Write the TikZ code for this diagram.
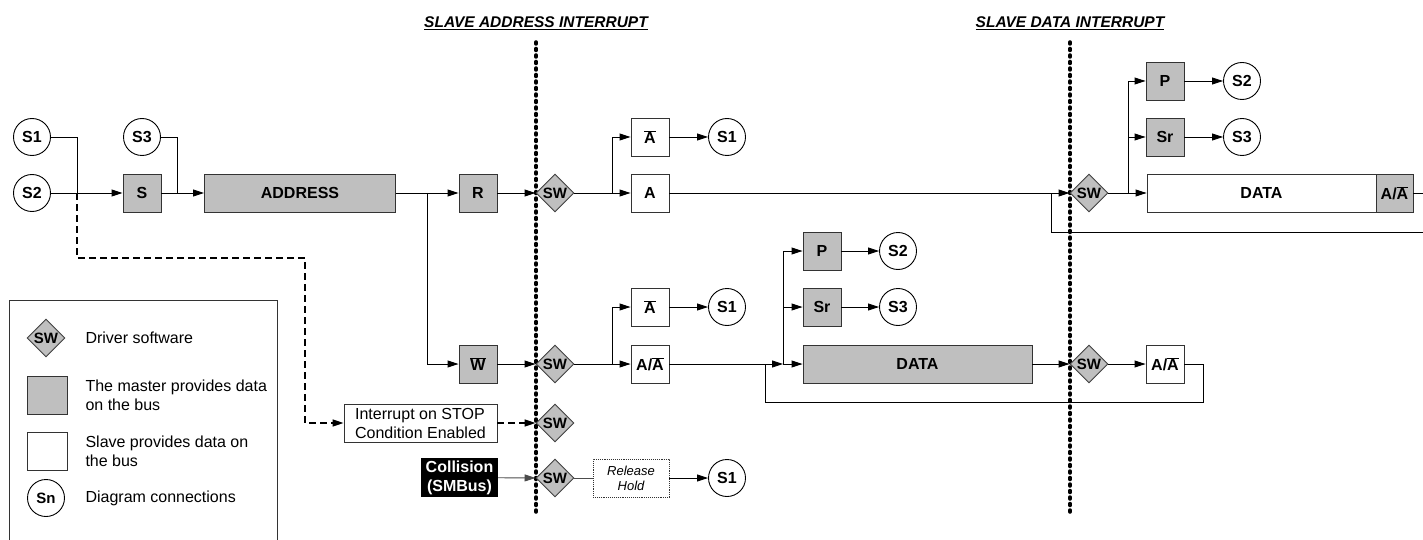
\documentclass[tikz,border=0pt]{standalone}
\usepackage{fontspec}
\setmainfont{Liberation Sans}
\usetikzlibrary{shapes.geometric,arrows.meta}

\newcommand{\ovl}[1]{$\overline{\mbox{#1}}$}
\newcommand{\bigbf}{\bfseries\fontsize{16}{19}\selectfont}

\tikzset{
  bus/.style={line width=0.9pt,draw=black},
  master/.style={draw=black!80,line width=0.9pt,fill=black!25,font=\bigbf,
    minimum width=38pt,minimum height=38pt,inner sep=0pt},
  slave/.style={master,fill=white},
  conn/.style={circle,draw=black,line width=0.9pt,fill=white,font=\bigbf,
    minimum size=37pt,inner sep=0pt},
  swnode/.style={diamond,draw=black!75,line width=0.9pt,fill=black!25,
    font=\bfseries\fontsize{15}{15}\selectfont,
    minimum width=38pt,minimum height=38pt,inner sep=0pt},
  intline/.style={line width=3.5pt,dash pattern=on 2pt off 4.5pt,line cap=round},
  title/.style={font=\bfseries\itshape\fontsize{15.5}{18}\selectfont,anchor=base},
  legtext/.style={anchor=west,align=left,font=\fontsize{16}{19}\selectfont},
}

\begin{document}
\begin{tikzpicture}[x=1pt,y=-1pt,>={Triangle[length=11pt,width=7pt]},
  font=\fontsize{16}{19}\selectfont]
\useasboundingbox (0,0) rectangle (1423,540);

% interrupt markers
\draw[intline] (536,42) -- (536,513);
\draw[intline] (1070,42) -- (1070,513);
\node[title] at (536,28) {\underline{SLAVE ADDRESS INTERRUPT}};
\node[title] at (1070,28) {\underline{SLAVE DATA INTERRUPT}};

% --- address phase ---
\node[conn] (s1a) at (32,137) {S1};
\node[conn] (s2a) at (32,193) {S2};
\node[conn] (s3a) at (142,137) {S3};
\node[master] (st) at (142,193) {S};
\node[master,minimum width=191pt] (addr) at (300,193) {ADDRESS};
\node[master] (rd) at (478,193) {R};
\node[master] (wr) at (478,364) {\ovl{W}};
\coordinate (j1) at (77,193);
\coordinate (j2) at (177,193);
\coordinate (b1) at (427,193);

\draw[bus,->] (s2a) -- (st);
\draw[bus] (s1a.east) -| (j1);
\draw[bus,->] (st) -- (addr);
\draw[bus] (s3a.east) -| (j2);
\draw[bus,->] (addr) -- (rd);
\draw[bus,->] (b1) |- (wr.west);

% --- read branch ---
\node[swnode] (sw1) at (555,193) {SW};
\node[slave] (nak1) at (650,137) {\ovl{A}};
\node[slave] (ack1) at (650,193) {A};
\node[conn] (s1b) at (727,137) {S1};
\coordinate (b2) at (612,193);
\draw[bus,->] (rd) -- (sw1.west);
\draw[bus] (sw1) -- (b2);
\draw[bus,->] (b2) |- (nak1.west);
\draw[bus,->] (b2) -- (ack1);
\draw[bus,->] (nak1) -- (s1b);

\node[swnode] (sw2) at (1089,193) {SW};
\node[master] (p1) at (1165,81) {P};
\node[master] (sr1) at (1165,137) {Sr};
\node[conn] (s2b) at (1242,81) {S2};
\node[conn] (s3b) at (1242,137) {S3};
\node[slave,minimum width=229pt] (dat1) at (1261.5,193) {DATA};
\node[master,minimum width=37pt] (ak2) at (1394.5,193) {A/\ovl{A}};
\coordinate (b3) at (1128,193);
\coordinate (lp1) at (1051,193);
\coordinate (e1) at (1423,193);
\coordinate (e2) at (1423,232);
\draw[bus,->] (ack1) -- (sw2.west);
\draw[bus] (sw2) -- (b3);
\draw[bus,->] (b3) |- (p1.west);
\draw[bus,->] (b3) |- (sr1.west);
\draw[bus,->] (b3) -- (dat1.west);
\draw[bus,->] (p1) -- (s2b);
\draw[bus,->] (sr1) -- (s3b);
\draw[bus] (ak2.east) -- (e1);
\draw[bus] (e2) -| (lp1);

% --- write branch ---
\node[swnode] (sw3) at (555,364) {SW};
\node[slave] (nak2) at (650,307) {\ovl{A}};
\node[slave] (ak3) at (650,364) {A/\ovl{A}};
\node[conn] (s1c) at (727,307) {S1};
\coordinate (b4) at (612,364);
\coordinate (b5) at (783,364);
\coordinate (lp2) at (765,364);
\draw[bus,->] (wr) -- (sw3.west);
\draw[bus] (sw3) -- (b4);
\draw[bus,->] (b4) |- (nak2.west);
\draw[bus,->] (b4) -- (ak3);
\draw[bus,->] (nak2) -- (s1c);

\node[master] (p2) at (822,251) {P};
\node[master] (sr2) at (822,307) {Sr};
\node[conn] (s2c) at (898,251) {S2};
\node[conn] (s3c) at (898,307) {S3};
\node[master,minimum width=229pt] (dat2) at (917.5,364) {DATA};
\node[swnode] (sw4) at (1089,364) {SW};
\node[slave] (ak4) at (1165,364) {A/\ovl{A}};
\draw[bus,->] (ak3) -- (b5);
\draw[bus,->] (b5) |- (p2.west);
\draw[bus,->] (b5) |- (sr2.west);
\draw[bus,->] (b5) -- (dat2.west);
\draw[bus,->] (p2) -- (s2c);
\draw[bus,->] (sr2) -- (s3c);
\draw[bus,->] (dat2) -- (sw4.west);
\draw[bus,->] (sw4) -- (ak4);
\draw[bus] (ak4.east) -| (1203,402) -| (lp2);

% --- stop and collision ---
\node[draw=black!80,line width=0.9pt,align=left,minimum width=153pt,
  minimum height=38pt,inner sep=1pt] (intr) at (420.5,423)
  {Interrupt on STOP\\Condition Enabled};
\node[swnode] (sw5) at (555,423) {SW};
\draw[bus,dashed,dash pattern=on 7pt off 4pt,line width=1.4pt,->]
  (j1) |- (305,258) |- (intr.west);
\draw[bus,dashed,dash pattern=on 7pt off 4pt,line width=1.4pt,->]
  (intr) -- (sw5.west);

\node[fill=black,text=white,font=\bigbf,align=center,minimum width=77pt,
  minimum height=39pt,inner sep=0pt] (coll) at (459.5,477.5)
  {Collision\\(SMBus)};
\node[swnode] (sw6) at (555,478) {SW};
\node[draw=black!80,line width=0.9pt,densely dotted,align=center,
  font=\itshape\fontsize{13}{15}\selectfont,minimum width=76pt,
  minimum height=38pt,inner sep=0pt] (rel) at (631,478) {Release\\Hold};
\node[conn] (s1d) at (727,478) {S1};
\draw[bus,draw=black!70,->] (coll) -- (sw6.west);
\draw[bus,draw=black!70] (sw6) -- (rel);
\draw[bus,->] (rel) -- (s1d);

% --- legend ---
\draw[line width=0.9pt,draw=black!80] (9,541) -- (9,300) -- (277,300) -- (277,541);
\node[swnode] (lsw) at (46,338) {SW};
\node[master,minimum width=40pt] (lms) at (47,395) {};
\node[slave,minimum width=40pt] (lsl) at (47,451) {};
\node[conn,font=\bfseries\fontsize{15}{15}\selectfont] (lsn) at (46,498) {Sn};
\node[legtext] at (82,338) {Driver software};
\node[legtext] at (82,395) {The master provides data\\on the bus};
\node[legtext] at (82,451) {Slave provides data on\\the bus};
\node[legtext] at (82,498) {Diagram connections};

\end{tikzpicture}
\end{document}
